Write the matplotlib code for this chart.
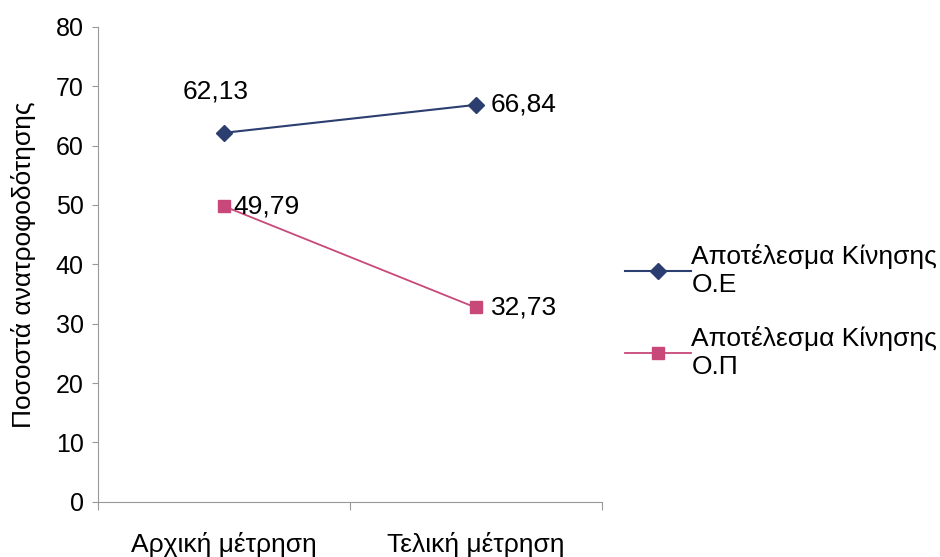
import matplotlib.pyplot as plt

plt.rcParams['font.family'] = ['Liberation Sans', 'DejaVu Sans']

categories = ['Αρχική μέτρηση', 'Τελική μέτρηση']
oe_values = [62.13, 66.84]
op_values = [49.79, 32.73]
oe_label = 'Αποτέλεσμα Κίνησης\nΟ.Ε'
op_label = 'Αποτέλεσμα Κίνησης\nΟ.Π'
y_ticks = [0, 10, 20, 30, 40, 50, 60, 70, 80]

blue = '#2c3e70'
pink = '#c8487a'

fig = plt.figure(figsize=(9.4, 5.57), dpi=100)
ax = fig.add_axes([0.104, 0.099, 0.536, 0.853])

x = [0.5, 1.5]
ax.plot(x, oe_values, color=blue, marker='D', markersize=8, lw=1.5, label=oe_label)
ax.plot(x, op_values, color=pink, marker='s', markersize=8, lw=1.3, label=op_label)

def fmt(v):
    return f'{v:.2f}'.replace('.', ',')

# data labels
ax.annotate(fmt(oe_values[0]), (x[0], oe_values[0]), xytext=(-6, 21),
            textcoords='offset points', ha='center', va='bottom', fontsize=19)
ax.annotate(fmt(oe_values[1]), (x[1], oe_values[1]), xytext=(11, 0),
            textcoords='offset points', ha='left', va='center', fontsize=19)
ax.annotate(fmt(op_values[0]), (x[0], op_values[0]), xytext=(7, 0),
            textcoords='offset points', ha='left', va='center', fontsize=19)
ax.annotate(fmt(op_values[1]), (x[1], op_values[1]), xytext=(11, 0),
            textcoords='offset points', ha='left', va='center', fontsize=19)

ax.set_xlim(0, 2)
ax.set_ylim(0, 80)
ax.set_yticks(y_ticks)
ax.tick_params(axis='y', labelsize=18, length=4, color='#999999', pad=6)
ax.set_xticks([0, 1, 2])
ax.set_xticklabels([])
ax.tick_params(axis='x', length=6, color='#999999')
ax.set_xticks(x, minor=True)
ax.set_xticklabels(categories, minor=True, fontsize=19)
ax.tick_params(axis='x', which='minor', length=0, pad=22)

for s in ['top', 'right']:
    ax.spines[s].set_visible(False)
for s in ['left', 'bottom']:
    ax.spines[s].set_color('#999999')

ax.set_ylabel('Ποσοστά ανατροφοδότησης', fontsize=19, labelpad=14)

ax.legend(loc='center left', bbox_to_anchor=(1.0, 0.40), frameon=False,
          fontsize=19, handlelength=2.5, handletextpad=0.0, labelspacing=1.1)

fig.savefig('out.png', dpi=100)
